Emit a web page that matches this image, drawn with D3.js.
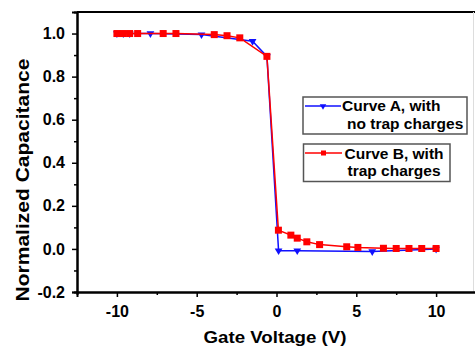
<!DOCTYPE html>
<html><head><meta charset="utf-8">
<script src="https://cdn.jsdelivr.net/npm/d3@7"></script>
<style>body{margin:0;background:#fff}svg{display:block}text{font-family:"Liberation Sans",Arial,sans-serif;font-weight:bold}</style>
</head><body><svg id="c" width="475" height="348"></svg>
<script>
const curveAx = [-10, -9.6, -9.2, -7.9, -4.7, -1.5, -0.6, 0.13, 1.3, 6.0, 10];
const curveAy = [1.0, 1.0, 1.0, 1.0, 0.995, 0.964, 0.894, -0.008, -0.008, -0.012, 0.0];
const curveBx = [-10, -9.6, -9.2, -8.7, -7.1, -6.3, -3.9, -3.1, -2.3, -0.6, 0.12, 0.9, 1.3, 1.9, 2.7, 4.4, 5.1, 6.7, 7.5, 8.3, 9.1, 10];
const curveBy = [1.0, 1.0, 1.0, 1.0, 1.0, 1.0, 0.995, 0.99, 0.98, 0.894, 0.087, 0.064, 0.05, 0.033, 0.02, 0.01, 0.007, 0.003, 0.002, 0.002, 0.002, 0.002];
const xTicks = [-10, -5, 0, 5, 10];
const xMinor = [-7.5, -2.5, 2.5, 7.5];
const yTicks = [-0.2, 0.0, 0.2, 0.4, 0.6, 0.8, 1.0];
const yMinor = [-0.1, 0.1, 0.3, 0.5, 0.7, 0.9];
const legendLabels = [["Curve A, with", "no trap charges"], ["Curve B, with", "trap charges"]];

const svg = d3.select("#c");
const L = 77, R = 476, T = 12, B = 292;
const x = d3.scaleLinear().domain([-12.5, 12.5]).range([L, R]);
const y = d3.scaleLinear().domain([-0.2, 1.1]).range([B, T]);

// frame
svg.append("line").attr("x1", L).attr("x2", R).attr("y1", T).attr("y2", T).attr("stroke", "#000").attr("stroke-width", 2);
svg.append("line").attr("x1", 473.5).attr("x2", 473.5).attr("y1", T).attr("y2", B).attr("stroke", "#ddd").attr("stroke-width", 1);

const fmtX = d => String(d);
const fmtY = d => (Math.abs(d) < 1e-9 ? 0 : d).toFixed(1);

// axes
const xAxis = svg.append("g").attr("transform", `translate(0,${B})`)
  .call(d3.axisBottom(x).tickValues(xTicks).tickSize(5).tickPadding(9).tickFormat(fmtX));
const xAxisMinor = svg.append("g").attr("transform", `translate(0,${B})`)
  .call(d3.axisBottom(x).tickValues(xMinor).tickSize(3).tickFormat(""));
const yAxis = svg.append("g").attr("transform", `translate(${L},0)`)
  .call(d3.axisLeft(y).tickValues(yTicks).tickSize(5).tickPadding(7).tickFormat(fmtY));
const yAxisMinor = svg.append("g").attr("transform", `translate(${L},0)`)
  .call(d3.axisLeft(y).tickValues(yMinor).tickSize(3).tickFormat(""));
[xAxis, xAxisMinor, yAxis, yAxisMinor].forEach(g => {
  g.select(".domain").attr("stroke", "#000").attr("stroke-width", 2);
  g.selectAll(".tick line").attr("stroke", "#000").attr("stroke-width", 1.5);
  g.selectAll("text").attr("fill", "#000").style("font-size", "16px").style("font-family", '"Liberation Sans",Arial,sans-serif').style("font-weight", "bold");
});

// titles
svg.append("text").attr("x", 275).attr("y", 343).attr("text-anchor", "middle")
  .style("font-size", "17px").attr("textLength", 143).attr("lengthAdjust", "spacingAndGlyphs").text("Gate Voltage (V)");
svg.append("text").attr("transform", "translate(29,180) rotate(-90)").attr("text-anchor", "middle")
  .style("font-size", "18px").attr("textLength", 243).attr("lengthAdjust", "spacingAndGlyphs").text("Normalized Capacitance");

const line = d3.line().x(d => x(d[0])).y(d => y(d[1]));
const A = curveAx.map((v, i) => [v, curveAy[i]]);
const Bd = curveBx.map((v, i) => [v, curveBy[i]]);
const tri = d3.symbol().type(d3.symbolTriangle).size(26);

// Curve A
svg.append("path").datum(A).attr("d", line).attr("fill", "none").attr("stroke", "#1010ff").attr("stroke-width", 1.5);
svg.selectAll(".ta").data(A).join("path").attr("d", tri)
  .attr("transform", d => `translate(${x(d[0])},${y(d[1])}) rotate(180)`).attr("fill", "#1010ff");
// Curve B
svg.append("path").datum(Bd).attr("d", line).attr("fill", "none").attr("stroke", "#ff0000").attr("stroke-width", 1.5);
svg.selectAll(".sb").data(Bd).join("rect")
  .attr("x", d => x(d[0]) - 3.5).attr("y", d => y(d[1]) - 3.5).attr("width", 7).attr("height", 7).attr("fill", "#ff0000");

// legend
const boxes = [
  {x: 303, y: 97, w: 164, h: 37, color: "#1010ff", sym: "tri", lx1: 305, lx2: 341, ly: 106, tx1: 342, ty1: 111, tx2: 347, ty2: 128.5},
  {x: 303.5, y: 144, w: 146.5, h: 37.5, color: "#ff0000", sym: "sq", lx1: 305, lx2: 342, ly: 153, tx1: 344.5, ty1: 158.5, tx2: 347.5, ty2: 176}
];
boxes.forEach((b, i) => {
  svg.append("rect").attr("x", b.x).attr("y", b.y).attr("width", b.w).attr("height", b.h)
    .attr("fill", "#fff").attr("stroke", "#555").attr("stroke-width", 1.5);
  svg.append("line").attr("x1", b.lx1).attr("x2", b.lx2).attr("y1", b.ly).attr("y2", b.ly).attr("stroke", b.color).attr("stroke-width", 1.5);
  const cx = (b.lx1 + b.lx2) / 2;
  if (b.sym === "tri") svg.append("path").attr("d", d3.symbol().type(d3.symbolTriangle).size(18)).attr("transform", `translate(${cx},${b.ly}) rotate(180)`).attr("fill", b.color);
  else svg.append("rect").attr("x", cx - 2.5).attr("y", b.ly - 2.5).attr("width", 5).attr("height", 5).attr("fill", b.color);
  svg.append("text").attr("x", b.tx1).attr("y", b.ty1).style("font-size", "15.5px").text(legendLabels[i][0]);
  svg.append("text").attr("x", b.tx2).attr("y", b.ty2).style("font-size", "15.5px").text(legendLabels[i][1]);
});
</script></body></html>
